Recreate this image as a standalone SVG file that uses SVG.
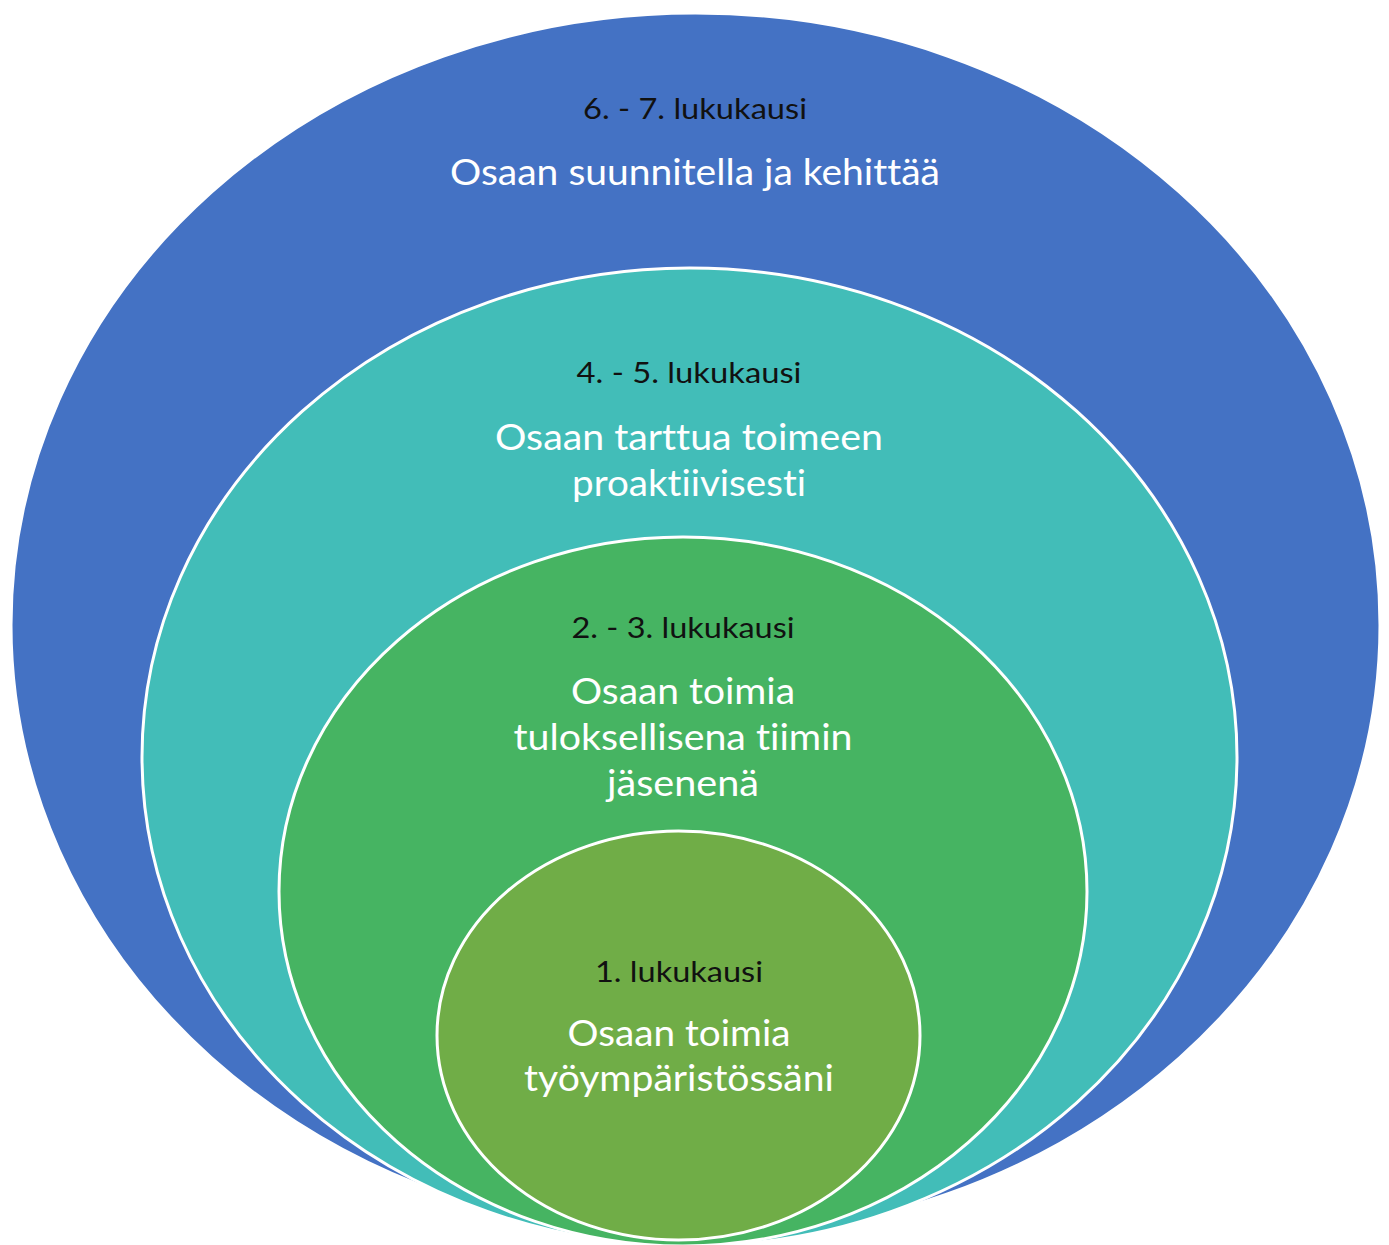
<svg xmlns="http://www.w3.org/2000/svg" width="1389" height="1245" viewBox="0 0 1389 1245">
<style>
.ring{stroke:#ffffff;stroke-width:3}
.lbl{font-family:Lato,"Liberation Sans",sans-serif;font-size:29px;fill:#111111;text-anchor:middle;font-variant-ligatures:none}
.txt{font-family:Lato,"Liberation Sans",sans-serif;font-size:37px;fill:#ffffff;text-anchor:middle;font-variant-ligatures:none}
</style>
<rect width="1389" height="1245" fill="#ffffff"/>
<g id="node-6-7">
<ellipse class="ring" cx="695.5" cy="625" rx="684.5" ry="612" fill="#4472C4"/>
<text class="lbl" x="695" y="119" textLength="224" lengthAdjust="spacingAndGlyphs">6. - 7. lukukausi</text>
<text class="txt" x="695" y="185" textLength="490" lengthAdjust="spacingAndGlyphs">Osaan suunnitella ja kehittää</text>
</g>
<g id="node-4-5">
<ellipse class="ring" cx="689.5" cy="757" rx="547.5" ry="489" fill="#42BDB8"/>
<text class="lbl" x="689" y="383" textLength="225" lengthAdjust="spacingAndGlyphs">4. - 5. lukukausi</text>
<text class="txt" x="689" y="450" textLength="388" lengthAdjust="spacingAndGlyphs">Osaan tarttua toimeen</text>
<text class="txt" x="689" y="496" textLength="234" lengthAdjust="spacingAndGlyphs">proaktiivisesti</text>
</g>
<g id="node-2-3">
<ellipse class="ring" cx="683" cy="891.5" rx="404" ry="354.5" fill="#46B462"/>
<text class="lbl" x="683" y="638" textLength="223" lengthAdjust="spacingAndGlyphs">2. - 3. lukukausi</text>
<text class="txt" x="683" y="704" textLength="224" lengthAdjust="spacingAndGlyphs">Osaan toimia</text>
<text class="txt" x="683" y="750" textLength="339" lengthAdjust="spacingAndGlyphs">tuloksellisena tiimin</text>
<text class="txt" x="683" y="796" textLength="152" lengthAdjust="spacingAndGlyphs">jäsenenä</text>
</g>
<g id="node-1">
<ellipse class="ring" cx="678.5" cy="1035.5" rx="241.5" ry="204.5" fill="#70AD47"/>
<text class="lbl" x="679" y="982" textLength="168" lengthAdjust="spacingAndGlyphs">1. lukukausi</text>
<text class="txt" x="679" y="1046" textLength="223" lengthAdjust="spacingAndGlyphs">Osaan toimia</text>
<text class="txt" x="679" y="1091" textLength="310" lengthAdjust="spacingAndGlyphs">työympäristössäni</text>
</g>
<g id="connectors"></g>
</svg>
